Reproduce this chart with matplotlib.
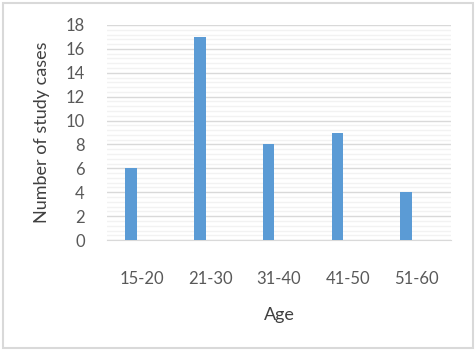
import matplotlib
matplotlib.use("Agg")
from matplotlib import pyplot as plt
from matplotlib.patches import Rectangle
from matplotlib.ticker import MultipleLocator

age_groups = ["15-20", "21-30", "31-40", "41-50", "51-60"]
study_cases = [6, 17, 8, 9, 4]

font = {'family': 'Lato', 'size': 11}
matplotlib.rc('font', **font)

fig = plt.figure(figsize=(4.76, 3.52), dpi=100)
fig.patches.append(Rectangle((0.006, 0.011), 0.988, 0.98, transform=fig.transFigure,
                             fill=False, edgecolor="#d9d9d9", linewidth=1.5))

ax = fig.add_axes([0.225, 0.318, 0.722, 0.611])
positions = range(len(age_groups))
ax.bar([p - 0.15 for p in positions], study_cases, width=0.17, color="#5b9bd5", zorder=3)

ax.set_xlim(-0.5, len(age_groups) - 0.5)
ax.set_ylim(0, 18)
ax.yaxis.set_major_locator(MultipleLocator(2))
ax.yaxis.set_minor_locator(MultipleLocator(0.4))
ax.set_xticks(list(positions))
ax.set_xticklabels(age_groups)

ax.grid(axis="y", which="major", color="#d9d9d9", linewidth=1, zorder=0)
ax.grid(axis="y", which="minor", color="#f2f2f2", linewidth=1, zorder=0)
for side in ["top", "right", "left"]:
    ax.spines[side].set_visible(False)
ax.spines["bottom"].set_color("#d9d9d9")
ax.tick_params(axis="both", which="both", length=0, colors="#595959", labelsize=12)
ax.tick_params(axis="x", pad=22)
ax.tick_params(axis="y", pad=16)

ax.set_xlabel("Age", fontsize=13, color="#404040", labelpad=15)
ax.set_ylabel("Number of study cases", fontsize=13, color="#404040", labelpad=11)

plt.savefig("out.png", format="png")
